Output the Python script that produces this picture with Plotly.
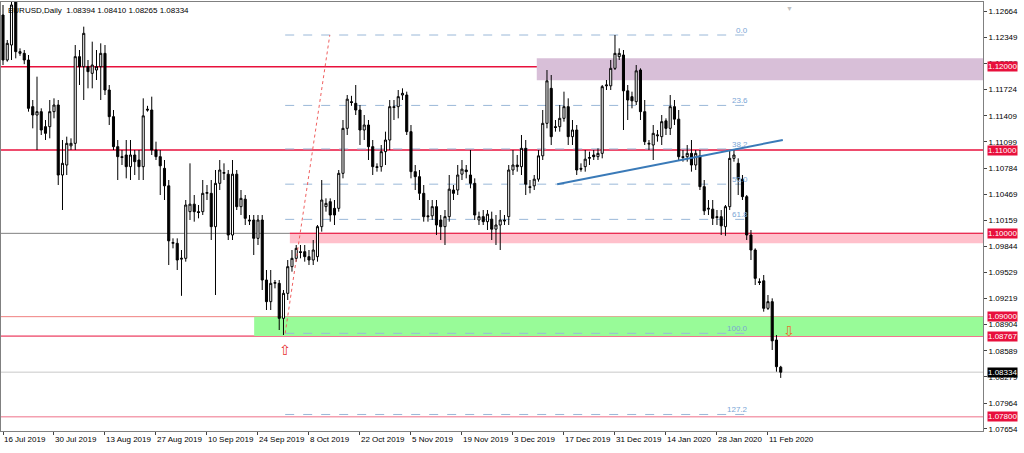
import plotly.graph_objects as go

# OHLC in pips (price*10000), one row per daily bar: O, C, H, L
bars = [
(11262,11208,11274,11202),(11208,11228,11232,11206),(11226,11274,11280,11208),(11278,11218,11280,11210),
(11216,11218,11222,11213),(11216,11208,11220,11203),(11208,11150,11214,11146),(11152,11142,11160,11126),
(11142,11146,11188,11100),(11146,11124,11150,11118),(11128,11120,11136,11112),(11128,11146,11160,11114),
(11146,11154,11162,11138),(11154,11070,11160,11058),(11070,11084,11112,11028),(11082,11108,11116,11070),
(11105,11108,11114,11100),(11108,11212,11226,11100),(11212,11200,11220,11178),(11200,11240,11248,11160),
(11200,11194,11208,11174),(11192,11202,11230,11174),(11196,11200,11220,11184),(11200,11216,11228,11160),
(11216,11172,11226,11166),(11172,11140,11178,11130),(11140,11104,11148,11100),(11104,11092,11112,11064),
(11092,11091,11100,11082),(11094,11080,11112,11066),(11080,11094,11112,11064),(11094,11086,11100,11070),
(11088,11080,11100,11064),(11080,11141,11162,11064),(11149,11148,11153,11146),(11148,11100,11164,11094),
(11100,11092,11110,11088),(11092,11081,11100,11046),(11078,11057,11088,11040),(11057,10991,11064,10962),
(10988,10989,10994,10982),(10988,10968,10994,10956),(10969,10970,10980,10925),(10970,11034,11040,10966),
(11026,11035,11084,11016),(11035,11026,11046,11014),(11026,11025,11034,11018),(11026,11048,11064,11022),
(11048,11049,11058,11040),(11048,11008,11064,10992),(11008,11060,11076,10926),(11060,11076,11088,11052),
(11072,11073,11084,11064),(11071,10998,11076,10992),(10998,11071,11088,10992),(11071,11032,11076,11028),
(11032,11042,11052,11022),(11041,11018,11046,11010),(11016,11015,11022,11010),(11016,10994,11022,10974),
(10994,11016,11022,10986),(11016,10944,11022,10932),(10944,10918,10956,10908),(10918,10940,10956,10908),
(10940,10941,10944,10934),(10940,10898,10944,10884),(10898,10928,10932,10878),(10928,10960,10968,10920),
(10960,10970,10980,10954),(10970,10982,10986,10966),(10978,10977,10986,10970),(10978,10972,10986,10966),
(10972,10968,10980,10962),(10968,10980,10992,10962),(10972,11008,11010,10966),(11008,11040,11064,11002),
(11032,11036,11042,11026),(11038,11022,11042,11014),(11030,11022,11040,11010),(11030,11072,11076,11026),
(11072,11126,11136,11066),(11126,11161,11166,11118),(11158,11157,11165,11153),(11156,11148,11178,11142),
(11148,11124,11154,11106),(11124,11130,11142,11112),(11130,11104,11136,11088),(11104,11080,11112,11070),
(11080,11079,11084,11074),(11080,11098,11106,11074),(11098,11112,11122,11082),(11112,11152,11160,11100),
(11152,11151,11160,11136),(11152,11164,11172,11138),(11166,11168,11174,11160),(11166,11122,11170,11118),
(11122,11074,11130,11066),(11074,11068,11082,11052),(11068,11048,11076,11040),(11048,11020,11058,11014),
(11021,11020,11040,11014),(11021,11032,11040,11016),(11032,11010,11040,10998),(11016,11008,11022,10992),
(11008,11020,11028,10986),(11020,11053,11070,11014),(11052,11048,11058,11040),(11052,11070,11082,11046),
(11071,11077,11088,11064),(11076,11074,11082,11066),(11070,11060,11100,11054),(11060,11022,11066,11016),
(11016,11020,11026,11010),(11020,11014,11028,11010),(11014,11023,11028,11004),(11017,11005,11026,10992),
(11005,11010,11022,10986),(11010,11016,11028,10980),(11016,11015,11022,11010),(11020,11076,11082,11010),
(11076,11082,11100,11070),(11082,11080,11094,11074),(11080,11102,11118,11070),(11102,11059,11112,11046),
(11056,11055,11064,11048),(11057,11065,11070,11052),(11065,11093,11100,11062),(11093,11132,11148,11088),
(11132,11183,11196,11126),(11174,11116,11190,11106),(11128,11127,11136,11122),(11128,11138,11154,11122),
(11138,11152,11170,11134),(11152,11116,11162,11106),(11116,11124,11136,11106),(11124,11076,11130,11070),
(11078,11077,11084,11074),(11080,11089,11100,11074),(11090,11091,11098,11082),(11094,11092,11100,11088),
(11092,11096,11102,11088),(11096,11176,11178,11090),(11177,11178,11184,11172),(11177,11198,11208,11172),
(11198,11216,11238,11196),(11212,11216,11222,11208),(11214,11171,11220,11124),(11171,11160,11178,11136),
(11164,11159,11170,11150),(11158,11195,11202,11154),(11196,11146,11198,11136),(11146,11110,11160,11106),
(11107,11108,11112,11100),(11106,11120,11130,11088),(11117,11118,11124,11110),(11116,11134,11142,11106),
(11135,11126,11138,11118),(11126,11152,11166,11118),(11152,11137,11160,11130),(11137,11092,11148,11088),
(11092,11091,11100,11086),(11092,11096,11106,11086),(11096,11082,11112,11074),(11082,11096,11100,11076),
(11093,11056,11100,11052),(11056,11027,11064,11022),(11029,11030,11040,11022),(11029,11018,11040,11010),
(11020,11019,11028,11010),(11020,11009,11028,10998),(11008,11032,11034,10997),(11032,11090,11100,11028),
(11090,11094,11100,11086),(11084,11065,11090,11046),(11065,11044,11070,11040),(11044,10998,11046,10992),
(10998,10980,11004,10968),(10980,10946,10982,10938),(10942,10941,10946,10938),(10943,10910,10950,10906),
(10910,10918,10926,10908),(10918,10871,10922,10860),(10872,10840,10878,10834),(10839.4,10833.4,10841,10826.5),
]
opens = [b[0]/10000 for b in bars]
closes = [b[1]/10000 for b in bars]
highs = [b[2]/10000 for b in bars]
lows = [b[3]/10000 for b in bars]
idx = list(range(1, len(bars)+1))

date_labels = ["16 Jul 2019","30 Jul 2019","13 Aug 2019","27 Aug 2019","10 Sep 2019","24 Sep 2019",
               "8 Oct 2019","22 Oct 2019","5 Nov 2019","19 Nov 2019","3 Dec 2019","17 Dec 2019",
               "31 Dec 2019","14 Jan 2020","28 Jan 2020","11 Feb 2020"]
date_pos = [1 + 12*k for k in range(len(date_labels))]
y_ticks = [1.12664,1.12349,1.12039,1.11724,1.11409,1.11099,1.10784,1.10469,1.10159,1.09844,
           1.09529,1.09219,1.08904,1.08589,1.08279,1.07964,1.07654]
levels = [1.12000,1.11000,1.10000,1.09000,1.08767,1.07800]
fib_ratios = [0.0,23.6,38.2,50.0,61.8,100.0,127.2]
fib_high, fib_low = 1.1238, 1.0880
last_price = 1.08334

FONT = "Liberation Sans"
fig = go.Figure()

shapes = []
shapes.append(dict(type="rect", xref="x", yref="y", x0=126.6, x1=1000, y0=1.11836, y1=1.1210,
                   fillcolor="#d8bfd8", line_width=0, layer="below"))
shapes.append(dict(type="rect", xref="x", yref="y", x0=68.5, x1=1000, y0=1.09880, y1=1.10010,
                   fillcolor="#ffc0cb", line_width=0, layer="below"))
shapes.append(dict(type="rect", xref="x", yref="y", x0=60.1, x1=1000, y0=1.08767, y1=1.0900,
                   fillcolor="#98fb98", line_width=0, layer="below"))
for lv, col, w in [(1.12, "#e8103c", 1.5), (1.11, "#e8103c", 1.5), (1.10, "#808080", 1),
                   (1.09, "#f08080", 1), (1.08767, "#e8103c", 1), (1.078, "#f4a0b0", 1.5),
                   (last_price, "#c8c8c8", 1)]:
    shapes.append(dict(type="line", xref="paper", yref="y", x0=0, x1=1, y0=lv, y1=lv,
                       line=dict(color=col, width=w), layer="below"))
shapes.append(dict(type="line", xref="x", yref="y", x0=68.5, x1=1000, y0=1.1000, y1=1.1000,
                   line=dict(color="#e8103c", width=1), layer="below"))
for r in fib_ratios:
    lv = fib_high - (fib_high - fib_low) * r / 100
    shapes.append(dict(type="line", xref="x", yref="y", x0=67.4, x1=176.8, y0=lv, y1=lv,
                       line=dict(color="#9ab8d8", width=1, dash="dash"), layer="below"))
    fig.add_annotation(x=176.8, y=lv, text=f"{r:.1f}", showarrow=False, xanchor="right",
                       yanchor="bottom", font=dict(family=FONT, size=8, color="#7aa6d6"), yshift=-2)
shapes.append(dict(type="line", xref="x", yref="y", x0=67.4, x1=77.9, y0=fib_low, y1=fib_high,
                   line=dict(color="#f06060", width=1, dash="dot")))
shapes.append(dict(type="line", xref="x", yref="y", x0=131.4, x1=184.5, y0=1.1059, y1=1.1112,
                   line=dict(color="#3a7ab8", width=2)))

fig.add_trace(go.Candlestick(x=idx, open=opens, high=highs, low=lows, close=closes,
    increasing=dict(line=dict(color="#000000", width=1), fillcolor="#ffffff"),
    decreasing=dict(line=dict(color="#000000", width=1), fillcolor="#000000"),
    whiskerwidth=0, showlegend=False, hoverinfo="skip"))

for lv in levels:
    fig.add_annotation(xref="paper", x=1.0, y=lv, text=f"{lv:.5f}", showarrow=False, xanchor="left",
                       xshift=4, bgcolor="#e8103c", font=dict(family=FONT, size=8, color="white"),
                       borderpad=0)
fig.add_annotation(xref="paper", x=1.0, y=last_price, text=f"{last_price:.5f}", showarrow=False,
                   xanchor="left", xshift=4, bgcolor="#000000",
                   font=dict(family=FONT, size=8, color="white"), borderpad=0)
fig.add_annotation(x=67.4, y=1.0860, text="⇧", showarrow=False,
                   font=dict(family="DejaVu Sans", size=14, color="#e83030"))
fig.add_annotation(x=185.9, y=1.0883, text="⇩", showarrow=False,
                   font=dict(family="DejaVu Sans", size=14, color="#e87030"))
fig.add_annotation(xref="paper", yref="paper", x=0.005, y=0.995, xanchor="left", yanchor="top",
                   text="EURUSD,Daily  1.08394 1.08410 1.08265 1.08334", showarrow=False,
                   font=dict(family=FONT, size=8, color="#000000"))
fig.add_annotation(xref="x", yref="paper", x=186, y=1.0, yanchor="top", text="▼", showarrow=False,
                   font=dict(size=7, color="#c0c0c0"))

fig.update_layout(
    width=1024, height=453, margin=dict(l=1, r=41, t=2, b=22),
    paper_bgcolor="white", plot_bgcolor="white", shapes=shapes,
    xaxis=dict(range=[0.53, 231.6], rangeslider=dict(visible=False), showgrid=False, zeroline=False,
               tickvals=date_pos, ticktext=date_labels, ticks="outside", ticklen=3, tickangle=0,
               automargin=False,
               ticklabelposition="outside right", tickfont=dict(family=FONT, size=8, color="#000"),
               showline=True, linecolor="#808080", mirror=True),
    yaxis=dict(range=[1.07628, 1.12776], side="right", showgrid=False, zeroline=False, automargin=False,
               tickvals=y_ticks, ticktext=[f"{v:.5f}" for v in y_ticks], ticks="outside", ticklen=3,
               tickfont=dict(family=FONT, size=8, color="#000"),
               showline=True, linecolor="#808080", mirror=True),
)
fig.write_html("out.html", config={"displayModeBar": False},
               post_script="document.body.style.margin='0';document.body.style.overflow='hidden';")
